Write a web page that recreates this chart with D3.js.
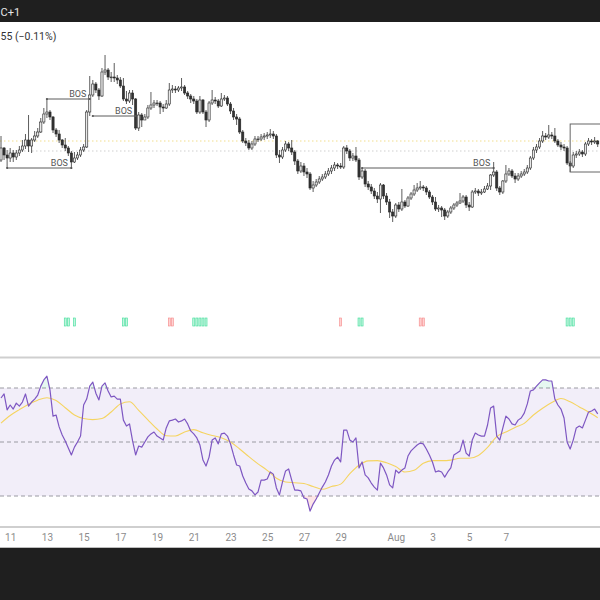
<!DOCTYPE html>
<html>
<head>
<meta charset="utf-8">
<script src="https://cdn.jsdelivr.net/npm/d3@7"></script>
<style>
  body { margin: 0; background: #fff; }
  svg { display: block; font-family: Roboto, "Noto Sans", sans-serif; }
</style>
</head>
<body>
<div id="container"></div>
<script>
// Datos (velas de 4h, precio en unidades del gráfico)

const firstOpen = 240;

const closes = [
  252,245,242,247,243,247,250,254,260,254,
  260,264,268,278,286,288,283,270,266,260,
  255,252,247,238,242,245,250,253,288,305,
  316,310,304,328,330,323,323,322,320,314,
  301,299,307,301,272,285,280,283,292,295,
  297,297,293,292,296,310,311,310,312,313,
  307,304,301,299,288,300,288,280,297,300,
  299,294,301,302,296,289,283,281,268,259,
  257,252,256,261,261,263,264,265,266,264,
  245,243,250,256,252,248,239,229,234,228,
  226,212,215,218,221,223,226,229,232,235,
  234,233,252,249,242,244,240,223,229,216,
  213,209,204,201,215,204,198,188,184,195,
  191,198,194,202,206,210,212,213,212,208,
  203,198,191,192,190,184,188,192,195,197,
  199,203,195,193,208,209,207,208,211,214,
  225,228,212,208,219,226,229,224,221,224,
  226,228,232,242,250,253,259,264,263,265,
  264,259,255,253,252,237,234,245,246,248,
  246,256,259,258,259,256
];

const highs = [
  264,253,250,252,250,250,254,260,266,285,
  262,269,272,282,292,301,290,284,272,270,
  261,262,254,249,248,248,253,256,290,324,
  320,318,312,332,345,332,328,337,325,323,
  322,309,310,310,302,288,287,286,295,308,
  300,300,299,296,300,317,315,314,314,322,
  315,309,306,304,301,304,301,290,299,310,
  303,301,307,305,304,298,292,286,283,270,
  262,260,259,264,264,266,267,268,271,269,
  266,250,253,259,258,260,250,241,238,237,
  232,228,219,221,224,226,229,232,235,238,
  237,237,254,255,251,247,253,242,232,231,
  219,216,212,208,217,216,207,201,191,197,
  198,211,200,204,208,215,217,219,215,214,
  210,205,203,195,194,192,190,194,197,199,
  207,205,205,198,210,212,211,211,214,217,
  226,238,230,214,220,235,232,231,227,227,
  229,231,235,244,253,256,262,269,267,275,
  268,272,261,258,256,254,239,248,249,251,
  250,258,262,261,263,260
];

const lows = [
  238,240,232,238,238,240,244,248,251,248,
  247,258,262,267,276,282,280,267,263,257,
  252,249,244,231,237,240,243,248,252,284,
  303,307,300,303,325,320,318,318,316,312,
  299,296,297,295,270,269,273,280,281,290,
  292,294,286,288,291,294,307,307,308,309,
  305,301,297,296,286,286,286,273,278,295,
  296,292,293,299,294,286,280,275,266,257,
  254,250,250,254,258,259,260,261,262,261,
  242,237,241,248,249,245,235,226,227,224,
  222,210,208,213,216,219,221,224,226,229,
  231,231,231,246,239,239,238,220,221,213,
  210,206,201,197,187,201,195,182,178,182,
  188,189,192,193,200,204,208,210,209,205,
  201,195,189,188,183,180,182,186,190,193,
  196,197,192,189,192,206,204,205,207,210,
  210,223,209,205,206,217,224,222,217,219,
  222,224,226,230,240,247,251,257,260,261,
  261,257,253,250,249,235,228,232,242,244,
  243,244,254,255,256,253
];

// RSI por vela
const rsi = [
  66.3,67.8,61.9,63.7,62.2,64.4,63.3,64.8,67.8,63.3,
  64.8,65.9,67.4,70.7,73.0,74.4,69.3,59.6,60.0,55.6,
  52.6,50.4,47.8,45.2,48.1,50.0,52.2,63.7,65.9,70.7,
  72.2,68.1,65.6,70.7,71.9,68.9,66.7,67.0,65.9,65.9,
  58.1,55.9,56.7,50.4,45.2,48.5,48.1,50.0,51.9,53.0,
  53.7,52.2,51.5,50.7,55.2,57.8,58.1,58.5,57.4,57.8,
  58.5,56.7,54.1,53.0,51.5,48.9,43.3,41.1,44.4,50.7,
  51.5,49.3,53.0,53.3,52.2,49.3,45.2,41.5,41.1,37.4,
  34.8,32.6,31.9,30.4,31.5,35.9,35.9,36.3,38.9,38.1,
  33.0,30.4,35.2,39.3,40.0,35.9,32.2,32.2,31.9,29.3,
  28.9,24.4,27.0,28.9,31.1,33.3,35.2,37.8,41.1,43.3,
  44.4,42.6,54.4,54.4,50.7,50.0,51.5,40.4,42.6,37.8,
  36.7,34.8,33.3,32.2,42.2,40.4,37.8,34.1,33.0,39.6,
  38.5,39.6,40.4,44.8,46.7,47.8,48.9,49.6,49.3,47.4,
  45.2,42.6,38.9,39.3,38.9,37.0,38.9,40.4,45.2,45.9,
  46.7,50.7,45.9,44.8,50.7,53.3,52.6,52.2,52.2,56.3,
  62.6,63.3,52.2,50.7,55.2,59.6,58.5,56.7,56.3,58.1,
  58.9,60.7,64.1,68.9,69.3,70.7,71.9,73.0,73.0,72.6,
  72.6,65.9,63.7,62.2,58.9,50.0,47.4,50.7,55.2,55.9,
  55.2,58.1,61.1,61.5,62.2,60.4
];

// Media del RSI, leída cada 3 velas
const MA_STEP = 3;
const rsiMA = [
  57.0,59.8,62.0,64.0,65.5,66.4,65.4,62.7,60.0,58.7,
  58.3,58.7,61.1,64.1,64.9,61.7,58.2,54.8,52.3,52.2,
  53.7,54.6,53.4,52.4,51.6,50.0,47.4,44.6,41.9,39.5,
  36.6,35.2,34.9,34.6,33.5,32.5,33.5,34.4,38.3,41.4,
  43.0,43.1,42.3,40.9,38.9,39.5,42.1,43.1,43.1,43.3,
  44.0,44.0,45.0,48.0,52.0,53.7,55.4,56.9,60.0,62.5,
  64.6,66.1,64.9,63.0,61.1,59.0
];

// Rupturas de estructura (BOS): vela inicial, vela final y nivel
const bosStart = [2, 15, 30, 118];
const bosEnd = [23, 29, 44, 161];
const bosLevel = [232, 301, 284, 232];

// Recuadro de la derecha
const boxRange = [186, 200];
const boxLevels = [228, 276];

// Niveles punteados (amarillo y gris)
const dottedLevels = [259, 249];

// Señales bajo el precio
const buySignals = [21, 22, 24, 40, 41, 63, 64, 65, 66, 67, 117, 118, 185, 186, 187];
const sellSignals = [55, 56, 111, 137, 138];

// Bandas del RSI
const rsiBands = [70, 50, 30];

// Eje de tiempo
const tickDates = ['2023-07-11','2023-07-13','2023-07-15','2023-07-17','2023-07-19',
                   '2023-07-21','2023-07-23','2023-07-25','2023-07-27','2023-07-29',
                   '2023-08-01','2023-08-03','2023-08-05','2023-08-07'];
const tickLabels = ['11','13','15','17','19','21','23','25','27','29','Aug','3','5','7'];

// Dimensiones y paneles

const WIDTH = 600;
const HEIGHT = 600;
const PANE = { TOP: 22, PRICE_BOTTOM: 357, RSI_TOP: 358, RSI_BOTTOM: 527, AXIS_BOTTOM: 548 };

const T0 = Date.UTC(2023, 6, 10, 12);
const STEP = 4 * 3600 * 1000;
const t = i => new Date(T0 + i * STEP);

const x = d3.scaleUtc()
            .domain([t(0), t(196)])
            .range([1, 1 + 196 * 3.06]);

const y = d3.scaleLinear()
            .domain([43, 378])
            .range([PANE.PRICE_BOTTOM, PANE.TOP]);

const yRsi = d3.scaleLinear()
               .domain([30, 70])
               .range([496, 388]);

const svg = d3.select('#container')
              .append('svg')
                .attr('width', WIDTH)
                .attr('height', HEIGHT);

svg.append('rect')
   .attr('width', WIDTH)
   .attr('height', HEIGHT)
   .attr('fill', '#fff');

const defs = svg.append('defs');
const clip = (id, y0, y1) => defs.append('clipPath').attr('id', id)
                                 .append('rect')
                                   .attr('x', 0).attr('y', y0)
                                   .attr('width', WIDTH).attr('height', y1 - y0);
clip('clip-price', PANE.TOP, PANE.PRICE_BOTTOM);
clip('clip-rsi', PANE.RSI_TOP, PANE.RSI_BOTTOM);
clip('clip-ob', PANE.RSI_TOP, yRsi(70));
clip('clip-os', yRsi(30), PANE.RSI_BOTTOM);

// Panel de precio

const price = svg.append('g').attr('clip-path', 'url(#clip-price)');

price.selectAll('line.level')
     .data(dottedLevels)
     .enter()
     .append('line')
       .attr('x1', 0).attr('x2', WIDTH)
       .attr('y1', d => y(d)).attr('y2', d => y(d))
       .attr('stroke', (d, i) => i ? '#cfcfcf' : '#f1dd8c')
       .attr('stroke-width', 1)
       .attr('stroke-dasharray', '1.5,2.5');

const candles = closes.map((c, i) => ({
  i, c, o: i ? closes[i - 1] : firstOpen, h: highs[i], l: lows[i]
}));

price.selectAll('line.wick')
     .data(candles)
     .enter()
     .append('line')
       .attr('x1', d => x(t(d.i))).attr('x2', d => x(t(d.i)))
       .attr('y1', d => y(d.h)).attr('y2', d => y(d.l))
       .attr('stroke', '#333')
       .attr('stroke-width', 0.8);

price.selectAll('rect.body')
     .data(candles)
     .enter()
     .append('rect')
       .attr('x', d => x(t(d.i)) - 1.1)
       .attr('width', 2.2)
       .attr('y', d => y(Math.max(d.o, d.c)))
       .attr('height', d => Math.max(0.8, Math.abs(y(d.o) - y(d.c))))
       .attr('fill', d => d.c >= d.o ? '#e8e8e8' : '#333')
       .attr('stroke', '#262626')
       .attr('stroke-width', 0.6);

// BOS: línea, puntos en los extremos y etiqueta
const bos = bosStart.map((s, k) => ({ s, e: bosEnd[k], v: bosLevel[k] }));

price.selectAll('line.bos')
     .data(bos)
     .enter()
     .append('line')
       .attr('x1', d => x(t(d.s))).attr('x2', d => x(t(d.e)))
       .attr('y1', d => y(d.v)).attr('y2', d => y(d.v))
       .attr('stroke', '#5a5a5a')
       .attr('stroke-width', 1);

price.selectAll('circle.bos')
     .data(bos.flatMap(d => [{ i: d.s, v: d.v }, { i: d.e, v: d.v }]))
     .enter()
     .append('circle')
       .attr('cx', d => x(t(d.i)))
       .attr('cy', d => y(d.v))
       .attr('r', 1.1)
       .attr('fill', '#555');

price.selectAll('text.bos')
     .data(bos)
     .enter()
     .append('text')
       .attr('x', d => x(t(d.e)) - 12)
       .attr('y', d => y(d.v) - 2.5)
       .attr('text-anchor', 'middle')
       .attr('font-size', 9)
       .attr('fill', '#555')
       .text('BOS');

price.append('rect')
     .attr('x', x(t(boxRange[0])))
     .attr('width', x(t(boxRange[1])) - x(t(boxRange[0])))
     .attr('y', y(boxLevels[1]))
     .attr('height', y(boxLevels[0]) - y(boxLevels[1]))
     .attr('fill', 'none')
     .attr('stroke', '#666')
     .attr('stroke-width', 1);

// Señales
const signals = buySignals.map(i => ({ i, buy: true }))
                          .concat(sellSignals.map(i => ({ i, buy: false })));

svg.append('g')
   .selectAll('rect')
   .data(signals)
   .enter()
   .append('rect')
     .attr('x', d => x(t(d.i)) - 1)
     .attr('y', 318)
     .attr('width', 2)
     .attr('height', 8)
     .attr('fill', d => d.buy ? '#c2f6df' : '#ffd2d2')
     .attr('stroke', d => d.buy ? '#3ddc98' : '#f58787')
     .attr('stroke-width', 0.6);

// Panel RSI

const rsiPane = svg.append('g').attr('clip-path', 'url(#clip-rsi)');

rsiPane.append('rect')
       .attr('x', 0).attr('width', WIDTH)
       .attr('y', yRsi(70))
       .attr('height', yRsi(30) - yRsi(70))
       .attr('fill', 'rgba(126,87,194,0.1)');

rsiPane.selectAll('line.band')
       .data(rsiBands)
       .enter()
       .append('line')
         .attr('x1', 0).attr('x2', WIDTH)
         .attr('y1', d => yRsi(d)).attr('y2', d => yRsi(d))
         .attr('stroke', '#9a9aa2')
         .attr('stroke-width', 1)
         .attr('stroke-dasharray', '4,3');

// Zonas de sobrecompra y sobreventa
const area = lvl => d3.area()
                      .x((d, i) => x(t(i)))
                      .y0(yRsi(lvl))
                      .y1(d => yRsi(d));

rsiPane.append('path')
       .attr('clip-path', 'url(#clip-ob)')
       .attr('d', area(70)(rsi))
       .attr('fill', 'rgba(8,190,120,0.10)');

rsiPane.append('path')
       .attr('clip-path', 'url(#clip-os)')
       .attr('d', area(30)(rsi))
       .attr('fill', 'rgba(242,70,80,0.14)');

rsiPane.append('path')
       .attr('d', d3.line()
                    .x((d, k) => x(t(k * MA_STEP)))
                    .y(d => yRsi(d))
                    .curve(d3.curveMonotoneX)(rsiMA))
       .attr('fill', 'none')
       .attr('stroke', '#f5d461')
       .attr('stroke-width', 1.1);

rsiPane.append('path')
       .attr('d', d3.line()
                    .x((d, i) => x(t(i)))
                    .y(d => yRsi(d))(rsi))
       .attr('fill', 'none')
       .attr('stroke', '#7e57c2')
       .attr('stroke-width', 1.2)
       .attr('stroke-linejoin', 'round');

// Separadores de paneles
svg.append('line')
   .attr('x1', 0).attr('x2', WIDTH)
   .attr('y1', 357.5).attr('y2', 357.5)
   .attr('stroke', '#cfcfcf').attr('stroke-width', 2);

svg.append('line')
   .attr('x1', 0).attr('x2', WIDTH)
   .attr('y1', 527).attr('y2', 527)
   .attr('stroke', '#cfcfcf').attr('stroke-width', 2);

// Eje de tiempo
const axis = svg.append('g')
                .attr('transform', `translate(0, ${PANE.RSI_BOTTOM + 1})`)
                .call(d3.axisBottom(x)
                        .tickValues(tickDates.map(d => new Date(d + 'T00:00:00Z')))
                        .tickFormat((d, i) => tickLabels[i])
                        .tickSize(0)
                        .tickPadding(6));
axis.select('.domain').remove();
axis.selectAll('text')
    .attr('fill', '#8c8c8c')
    .attr('font-size', 10)
    .attr('font-family', 'Roboto, "Noto Sans", sans-serif');

// Barras oscuras arriba y abajo
svg.append('rect')
   .attr('x', 0).attr('y', 0)
   .attr('width', WIDTH).attr('height', PANE.TOP)
   .attr('fill', '#1f1f1f');

svg.append('rect')
   .attr('x', 0).attr('y', PANE.AXIS_BOTTOM)
   .attr('width', WIDTH).attr('height', HEIGHT - PANE.AXIS_BOTTOM)
   .attr('fill', '#1f1f1f');

svg.append('line')
   .attr('x1', 0).attr('x2', WIDTH)
   .attr('y1', PANE.AXIS_BOTTOM - 0.5).attr('y2', PANE.AXIS_BOTTOM - 0.5)
   .attr('stroke', '#bdbdbd').attr('stroke-width', 1);

svg.append('text')
   .attr('x', 0.5)
   .attr('y', 16)
   .attr('font-size', 11)
   .attr('fill', '#e6e6e6')
   .text('C+1');

svg.append('text')
   .attr('x', 0.5)
   .attr('y', 40)
   .attr('font-size', 10.5)
   .attr('fill', '#333')
   .text('55 (−0.11%)');
</script>
</body>
</html>
